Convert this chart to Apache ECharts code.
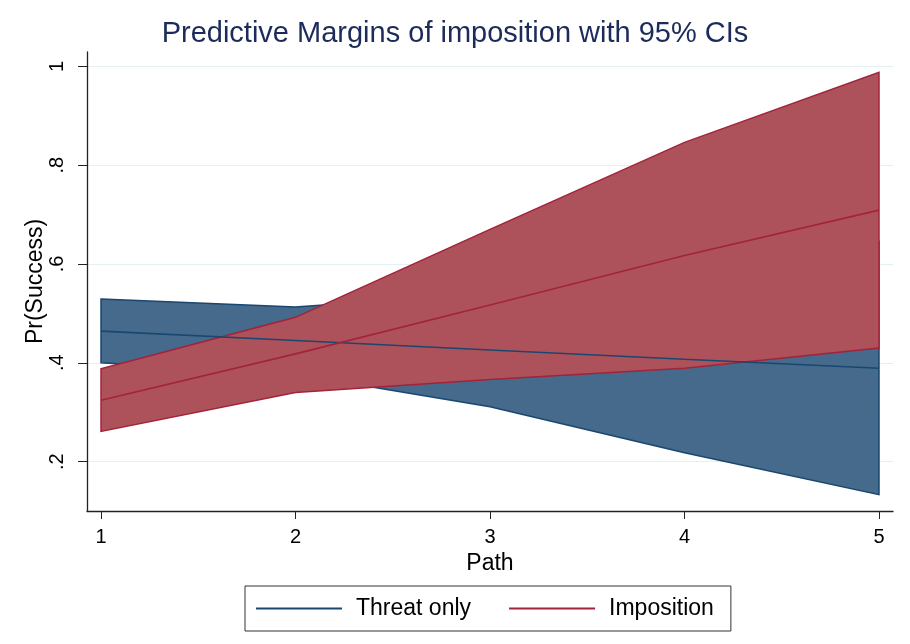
<!DOCTYPE html>
<html><head><meta charset="utf-8">
<script src="https://cdn.jsdelivr.net/npm/echarts@6/dist/echarts.min.js"></script>
<style>html,body{margin:0;padding:0;background:#fff}#c{width:910px;height:644px}</style>
</head><body><div id="c"></div>
<script>
const path = [1, 2, 3, 4, 5];
const threatMean  = [0.464, 0.445, 0.426, 0.407, 0.389];
const threatLower = [0.400, 0.377, 0.311, 0.218, 0.133];
const threatUpper = [0.529, 0.513, 0.541, 0.595, 0.646];
const impMean  = [0.324, 0.418, 0.517, 0.617, 0.709];
const impLower = [0.261, 0.340, 0.366, 0.389, 0.430];
const impUpper = [0.388, 0.492, 0.670, 0.846, 0.988];
const xTicks = [1, 2, 3, 4, 5];
const yTicks = [0.2, 0.4, 0.6, 0.8, 1];

const blueFill = '#456a8b', blueLine = '#1a476f';
const redFill = '#ad525b', redLine = '#a3233b';
const font = 'Liberation Sans, Arial, Helvetica, sans-serif';

function band(lower, upper, fill, stroke, name, z) {
  return {
    type: 'custom', name: name, silent: true,
    data: path.map((x, i) => [x, lower[i], upper[i]]),
    renderItem: function (params, api) {
      if (params.dataIndex !== 0) return null;
      const pts = [];
      for (let i = 0; i < path.length; i++) pts.push(api.coord([path[i], upper[i]]));
      for (let i = path.length - 1; i >= 0; i--) pts.push(api.coord([path[i], lower[i]]));
      return { type: 'polygon', shape: { points: pts },
        style: { fill: fill, stroke: stroke, lineWidth: 1.5 } };
    },
    encode: { x: 0, y: [1, 2] }, z: z
  };
}

const chart = echarts.init(document.getElementById('c'));
chart.setOption({
  animation: false,
  backgroundColor: '#fff',
  title: { text: 'Predictive Margins of imposition with 95% CIs', left: 'center', top: 14,
    textStyle: { fontFamily: font, fontSize: 29, fontWeight: 'normal', color: '#1c2b5a' } },
  grid: { left: 87, right: 17, top: 52, bottom: 133 },
  legend: {
    bottom: 13, left: 245, data: [
      { name: 'Threat only', icon: 'rect', itemStyle: { color: blueLine } },
      { name: 'Imposition', icon: 'rect', itemStyle: { color: redLine } }],
    itemWidth: 86, itemHeight: 2, itemGap: 38,
    borderColor: '#333', borderWidth: 1, padding: [11, 17, 11, 11],
    textStyle: { fontFamily: font, fontSize: 23, color: '#000', padding: [0, 0, 0, 9] }
  },
  xAxis: {
    type: 'value', min: 0.928, max: 5.072,
    name: 'Path', nameLocation: 'middle', nameGap: 41, nameMoveOverlap: false,
    nameTextStyle: { fontFamily: font, fontSize: 23, color: '#000' },
    axisLine: { show: true, lineStyle: { color: '#222', width: 1.3 } },
    axisTick: { show: true, length: 8, customValues: xTicks, lineStyle: { color: '#222' } },
    axisLabel: { customValues: xTicks, fontFamily: font, fontSize: 20, color: '#000', margin: 16,
      formatter: v => String(v) },
    splitLine: { show: false }
  },
  yAxis: {
    type: 'value', min: 0.1, max: 1.029,
    name: 'Pr(Success)', nameLocation: 'middle', nameGap: 40, nameRotate: 90, nameMoveOverlap: false,
    nameTextStyle: { fontFamily: font, fontSize: 23, color: '#000' },
    axisLine: { show: true, lineStyle: { color: '#222', width: 1.3 } },
    axisTick: { show: true, length: 9, customValues: yTicks, lineStyle: { color: '#222' } },
    axisLabel: { customValues: yTicks, rotate: 90, fontFamily: font, fontSize: 20, color: '#000', margin: 20,
      formatter: v => (Math.abs(v - 1) < 1e-9 ? '1' : String(Math.round(v * 10) / 10).replace(/^0/, '')) },
    splitLine: { show: false }
  },
  series: [
    {
      type: 'line', name: 'grid', silent: true, data: [], z: 0,
      markLine: { silent: true, symbol: 'none', label: { show: false }, z: 0,
        lineStyle: { color: '#e3eff0', width: 1.2, type: 'solid' },
        data: yTicks.map(v => ({ yAxis: v })) }
    },
    band(threatLower, threatUpper, blueFill, blueLine, 'threatCI', 2),
    band(impLower, impUpper, redFill, redLine, 'impCI', 3),
    { type: 'line', name: 'Threat only', data: path.map((x, i) => [x, threatMean[i]]),
      symbol: 'none', lineStyle: { color: blueLine, width: 1.6 }, itemStyle: { color: blueLine }, z: 6 },
    { type: 'line', name: 'Imposition', data: path.map((x, i) => [x, impMean[i]]),
      symbol: 'none', lineStyle: { color: redLine, width: 1.6 }, itemStyle: { color: redLine }, z: 6 }
  ]
});
</script></body></html>
